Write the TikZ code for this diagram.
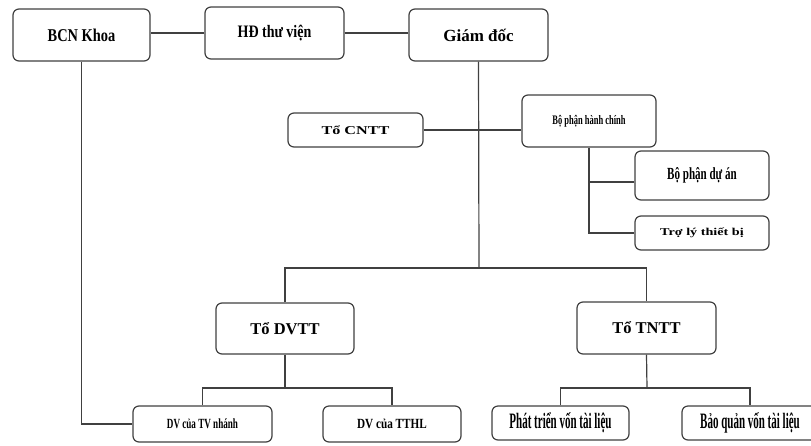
\documentclass[tikz,border=0pt]{standalone}
\usepackage{fontspec}
\setmainfont{Liberation Serif}
\newfontfamily\fhalf[FakeStretch=0.5]{Liberation Serif}
\newfontfamily\fnarrow[FakeStretch=0.65]{Liberation Serif}
\newfontfamily\fcond[FakeStretch=0.8]{Liberation Serif}
\newfontfamily\fwide[FakeStretch=1.35]{Liberation Serif}
\newcommand{\fs}[1]{\fontsize{#1}{#1}\selectfont}
\tikzset{
  box/.style={draw=black!75, line width=1.2pt, rounded corners=6pt, fill=white,
    inner sep=0pt, align=center, font=\bfseries},
  link/.style={draw=black!75, line width=1.2pt}
}
\begin{document}
\begin{tikzpicture}[x=1pt, y=-1pt]
\useasboundingbox (0,0) rectangle (811,445);
% Cap tren
\node[box, minimum width=137, minimum height=52, font=\fcond\bfseries\fs{18}] (bcn) at (81.5,35) {BCN Khoa};
\node[box, minimum width=139, minimum height=52, font=\fcond\bfseries\fs{17.5}] (hd) at (274.5,33) {HĐ thư viện};
\node[box, minimum width=139, minimum height=52, font=\bfseries\fs{17}] (gd) at (478.5,35) {Giám đốc};
% Bo phan
\node[box, minimum width=135, minimum height=34, font=\fwide\bfseries\fs{12}] (cntt) at (355.5,130) {Tổ CNTT};
\node[box, minimum width=134, minimum height=52, font=\fnarrow\bfseries\fs{13}] (hc) at (589,121) {Bộ phận hành chính};
\node[box, minimum width=134, minimum height=49, font=\fnarrow\bfseries\fs{17}] (duan) at (702,175.5) {Bộ phận dự án};
\node[box, minimum width=134, minimum height=34, font=\fwide\bfseries\fs{10.5}] (troly) at (702,233) {Trợ lý thiết bị};
% To
\node[box, minimum width=138, minimum height=51, font=\bfseries\fs{16.5}] (dvtt) at (285,328.5) {Tổ DVTT};
\node[box, minimum width=139, minimum height=52, font=\bfseries\fs{16.5}] (tntt) at (646.5,328) {Tổ TNTT};
% Cap duoi
\node[box, minimum width=139, minimum height=36, font=\fnarrow\bfseries\fs{14}] (tvn) at (202.5,424) {DV của TV nhánh};
\node[box, minimum width=138, minimum height=36, font=\fcond\bfseries\fs{14}] (tthl) at (392,424) {DV của TTHL};
\node[box, minimum width=137, minimum height=34, font=\fhalf\bfseries\fs{22}] (ptv) at (560.5,423) {Phát triển vốn tài liệu};
\node[box, minimum width=136, minimum height=34, font=\fhalf\bfseries\fs{22}] (bqv) at (750,423) {Bảo quản vốn tài liệu};
% Duong noi
\coordinate (bus) at (479,268);
\coordinate (dvbus) at (285,388);
\coordinate (tnbus) at (647,388);
\draw[link] (hd.west) -- (hd.west -| bcn.east);
\draw[link] (hd.east) -- (hd.east -| gd.west);
\draw[link] (gd.south) -- (bus);
\draw[link] (dvtt.north) |- (bus) -| (tntt.north);
\draw[link] (cntt.east) -- (cntt.east -| hc.west);
\draw[link] (hc.south) |- (troly.west);
\draw[link] ([yshift=-6.5pt]duan.west) -| (hc.south);
\draw[link] (dvtt.south) -- (dvbus);
\draw[link] (tvn.north) |- (dvbus) -| (tthl.north);
\draw[link] (tntt.south) -- (tnbus);
\draw[link] (ptv.north) |- (tnbus) -| (bqv.north);
\draw[link] (bcn.south) |- (tvn.west);
\end{tikzpicture}
\end{document}
